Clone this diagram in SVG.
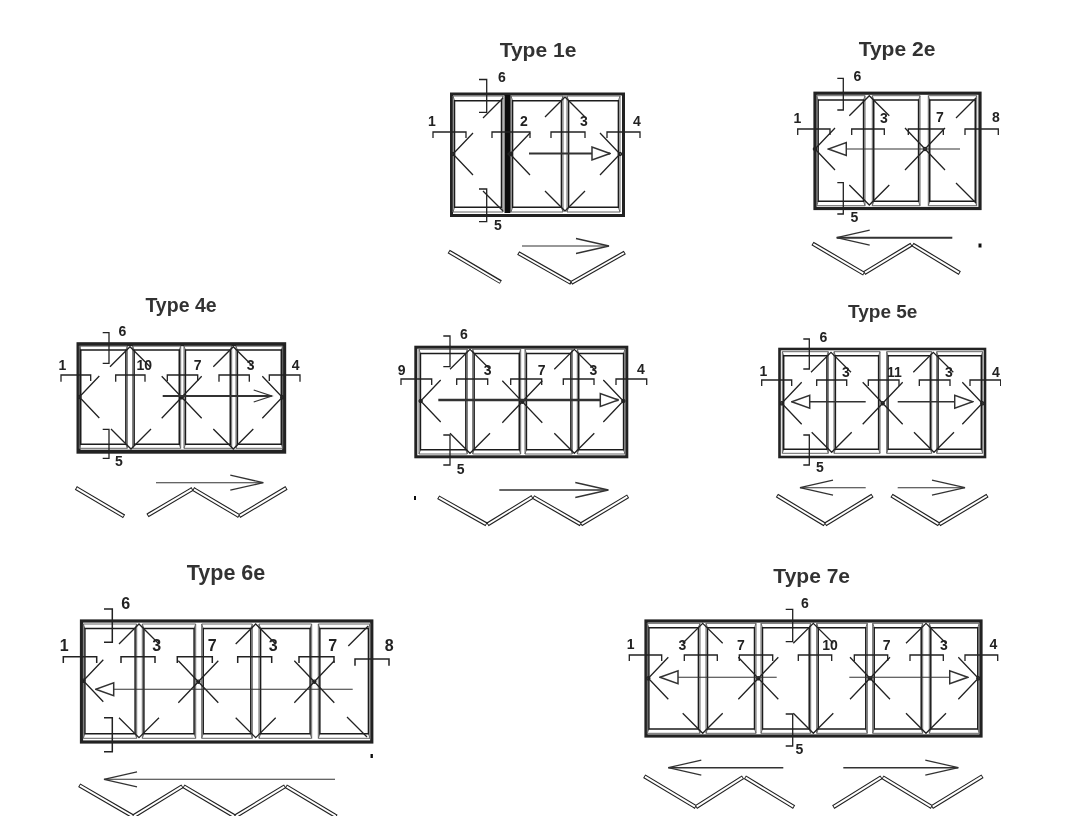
<svg xmlns="http://www.w3.org/2000/svg" xmlns:xlink="http://www.w3.org/1999/xlink" width="1068" height="840" viewBox="0 0 1068 840">
<style>
text{font-family:"Liberation Sans",Arial,sans-serif;font-weight:700;fill:#222;text-anchor:middle}
.t{font-size:21px;fill:#333}
.n{font-size:14px}
.N{font-size:16px}
.f{fill:#fff;stroke:#222}
.p{fill:none}
#pn{vector-effect:non-scaling-stroke;stroke:#666;stroke-width:1}
#pg{vector-effect:non-scaling-stroke;stroke:#1a1a1a;stroke-width:1.5}
.h{fill:none;stroke:#222;stroke-width:1.3}
.b{fill:none;stroke:#222;stroke-width:1.3}
.a{fill:none;stroke:#333;stroke-width:2}
.a1{fill:none;stroke:#333;stroke-width:1.1}
.lo{fill:none;stroke:#222;stroke-width:4.2;stroke-linecap:square}
.li{fill:none;stroke:#fff;stroke-width:2}
.m{fill:#111}
</style>
<defs>
<filter id="soft" x="0" y="0" width="100%" height="100%"><feGaussianBlur stdDeviation="0.35"/></filter>
<g id="pnl"><path id="pn" d="M0 0H50V100H0Z M0 0L1.5 4 M50 0L48.5 4 M50 100L48.5 96 M0 100L1.5 96"/><path id="pg" d="M1.5 4H48.5V96H1.5Z"/></g>
<path id="x" d="M-20 -21L20 21M-20 21L20 -21M-1.6 0a1.6 1.6 0 1 0 3.2 0a1.6 1.6 0 1 0 -3.2 0"/>
<path id="lc" d="M20 -21L0 0L20 21M-1.6 0a1.6 1.6 0 1 0 3.2 0a1.6 1.6 0 1 0 -3.2 0"/>
<path id="rc" d="M-20 -21L0 0L-20 21M-1.6 0a1.6 1.6 0 1 0 3.2 0a1.6 1.6 0 1 0 -3.2 0"/>
<path id="tv" d="M-20 20L0 0L20 20"/>
<path id="bv" d="M-20 -20L0 0L20 -20"/>
<path id="tr" d="M-20 20L0 0"/>
<path id="br" d="M-20 -20L0 0"/>
<marker id="tri" markerUnits="userSpaceOnUse" viewBox="-19 -8 20 16" refX="0" refY="0" markerWidth="20" markerHeight="16" orient="auto"><path d="M0 0L-18 -6.5V6.5Z" fill="#fff" stroke="#333" stroke-width="1.5"/></marker>
<marker id="opn" markerUnits="userSpaceOnUse" viewBox="-34 -9 36 18" refX="0" refY="0" markerWidth="36" markerHeight="18" orient="auto"><path d="M-33 -7.5L0 0L-33 7.5" fill="none" stroke="#333" stroke-width="1.3"/></marker>
<marker id="ops" markerUnits="userSpaceOnUse" viewBox="-20 -7 22 14" refX="0" refY="0" markerWidth="22" markerHeight="14" orient="auto"><path d="M-18 -6L0 0L-18 6" fill="none" stroke="#333" stroke-width="1.3"/></marker>
</defs>
<rect width="1068" height="840" fill="#fff"/>
<g filter="url(#soft)">

<g id="type1e">
<text class="t" x="538" y="57">Type 1e</text>
<rect class="f" x="451.5" y="94" width="172" height="121.5" stroke-width="3"/>
<g class="p"><use xlink:href="#pnl" transform="translate(453 96) scale(1 1.16)"/><use xlink:href="#pnl" transform="translate(511 96) scale(1.04 1.16)"/><use xlink:href="#pnl" transform="translate(567 96) scale(1.06 1.16)"/></g>
<rect class="m" x="504.5" y="95" width="6" height="118"/>
<g class="h"><use xlink:href="#lc" x="453" y="154"/><use xlink:href="#tr" x="503" y="98"/><use xlink:href="#br" x="503" y="211"/><use xlink:href="#lc" x="510" y="154"/><use xlink:href="#tv" x="565" y="97"/><use xlink:href="#bv" x="565" y="211"/><use xlink:href="#rc" x="620" y="154"/></g>
<path class="b" d="M433 138V132H466V138M492 138V132H530V138M551 138V132H585V138M607 138V132H640V138M479 79.5H486.7V112.3H479M479 189H486.7V221.7H479"/>
<path class="a" marker-end="url(#tri)" d="M529 153.5H610"/>
<path class="a1" marker-end="url(#opn)" d="M522 246H609"/>
<path class="lo" d="M450.5 252.5L499 281M520 254L569.5 282M573 282L623 253.5"/><path class="li" d="M449.5 252L500 282M519 253.5L570 282.5M572 282.5L624 253"/>
<g class="n"><text x="502" y="82">6</text><text x="432" y="126">1</text><text x="524" y="126">2</text><text x="584" y="126">3</text><text x="637" y="126">4</text><text x="498" y="230">5</text></g>
</g>

<g id="type2e">
<text class="t" x="897" y="56">Type 2e</text>
<rect class="f" x="815" y="93.2" width="165" height="115.3" stroke-width="3.2"/>
<g class="p"><use xlink:href="#pnl" transform="translate(816.7 95.7) scale(.966 1.1)"/><use xlink:href="#pnl" transform="translate(872.3 95.7) scale(.954 1.1)"/><use xlink:href="#pnl" transform="translate(928.3 95.7) scale(.968 1.1)"/></g>
<g class="h"><use xlink:href="#lc" x="815" y="149"/><use xlink:href="#tv" x="869.3" y="95.7"/><use xlink:href="#bv" x="869.3" y="205"/><use xlink:href="#x" x="925" y="149"/><use xlink:href="#tr" x="976" y="98"/><use xlink:href="#br" x="976" y="203"/></g>
<path class="b" d="M797.7 135V129H830V135M851.7 135V129H884.3V135M908.3 135V129H943.3V135M965 135V129H998.3V135M837.3 78.3H843.3V110H837.3M837.3 182.7H843.3V214H837.3"/>
<path class="a1" marker-end="url(#tri)" d="M960 149H828.3"/>
<path class="a" marker-end="url(#opn)" d="M952.3 237.7H836.7"/>
<path class="lo" d="M814.3 244.6L862.3 272.7M866 272L909.7 245.6M914.3 245.6L958 272"/><path class="li" d="M813.3 244L863.3 273.3M865 272.7L910.7 245M913.3 245L959 272.7"/>
<rect class="m" x="978.5" y="243.5" width="3" height="4"/>
<g class="n"><text x="857.3" y="80.5">6</text><text x="797.3" y="122.5">1</text><text x="884" y="123">3</text><text x="940" y="121.5">7</text><text x="996" y="121.5">8</text><text x="854.3" y="221.5">5</text></g>
</g>

<g id="type4e">
<text class="t" x="181" y="311.5" style="font-size:19.5px">Type 4e</text>
<rect class="f" x="78.5" y="344.2" width="205.7" height="107.5" stroke-width="4"/>
<g class="p"><use xlink:href="#pnl" transform="translate(79.3 346) scale(.96 1.023)"/><use xlink:href="#pnl" transform="translate(132.7 346) scale(.96 1.023)"/><use xlink:href="#pnl" transform="translate(184 346) scale(.954 1.023)"/><use xlink:href="#pnl" transform="translate(236 346) scale(.934 1.023)"/></g>
<g class="h"><use xlink:href="#lc" x="79.3" y="397"/><use xlink:href="#tv" x="130" y="346.7"/><use xlink:href="#bv" x="131" y="449"/><use xlink:href="#x" x="181.7" y="397.3"/><use xlink:href="#tv" x="233.3" y="346.7"/><use xlink:href="#bv" x="233.3" y="449"/><use xlink:href="#rc" x="282.3" y="397.3"/></g>
<path class="b" d="M61 381.7V375H90.7V381M115.7 381.7V375H145V381.7M167.3 381V375H197.7V381M219 381.7V375H249.3V381.7M269.3 381V375H300V381.7M102.7 332.7H109V363.3H102.7M102.7 429.3H109V458.3H102.7"/>
<path class="a" marker-end="url(#ops)" d="M162.7 396H271.7"/>
<path class="a1" marker-end="url(#opn)" d="M156 482.7H263.3"/>
<path class="lo" d="M77.7 489L122.3 515.3M149.3 514.4L190.7 490M195 490L237.3 515M241 515L284.7 489"/><path class="li" d="M76.7 488.3L123.3 516M148.3 515L191.7 489.3M194 489.3L238.3 515.7M240 515.7L285.7 488.3"/>
<g class="n"><text x="122.3" y="335.5">6</text><text x="62.3" y="370">1</text><text x="144.3" y="370">10</text><text x="197.7" y="370">7</text><text x="250.7" y="370">3</text><text x="295.7" y="370">4</text><text x="119" y="466">5</text></g>
</g>

<g id="typeMid">
<rect class="f" x="415.8" y="347.2" width="211" height="109.6" stroke-width="3"/>
<g class="p"><use xlink:href="#pnl" transform="translate(419 349.3) scale(.966 1.047)"/><use xlink:href="#pnl" transform="translate(472.7 349.3) scale(.96 1.047)"/><use xlink:href="#pnl" transform="translate(525 349.3) scale(.946 1.047)"/><use xlink:href="#pnl" transform="translate(577.3 349.3) scale(.954 1.047)"/></g>
<g class="h"><use xlink:href="#lc" x="420.7" y="401"/><use xlink:href="#tv" x="470" y="349.3"/><use xlink:href="#bv" x="470" y="453.3"/><use xlink:href="#x" x="522.3" y="401.7"/><use xlink:href="#tv" x="574.3" y="349.3"/><use xlink:href="#bv" x="574.3" y="453.3"/><use xlink:href="#rc" x="623.3" y="401"/></g>
<path class="b" d="M401 385V379H431.7V385M456.7 385V379H487.7V385M510.7 385V379H541.7V385M563.3 385V379H594V385M616 385V379H646.7V385M443.3 336H450V366.7H443.3M443.3 435H450V465H443.3"/>
<path class="a" marker-end="url(#tri)" style="stroke-width:2.4" d="M438.3 400H618.3"/>
<path class="a" marker-end="url(#opn)" style="stroke-width:1.6" d="M499.3 490H608.3"/>
<path class="lo" d="M440 498.3L484.7 523.4M489.3 523.4L530.7 498M535 498L579 523.4M582.7 523.4L626.3 497.3"/><path class="li" d="M439 497.7L485.7 524M488.3 524L531.7 497.3M534 497.3L580 524M581.7 524L627.3 496.7"/>
<rect class="m" x="414" y="496" width="2" height="4"/>
<g class="n"><text x="464" y="339">6</text><text x="401.7" y="375">9</text><text x="487.7" y="375">3</text><text x="541.7" y="375">7</text><text x="593.3" y="375">3</text><text x="641" y="374">4</text><text x="460.7" y="473.5">5</text></g>
</g>

<g id="type5e">
<text class="t" x="882.7" y="317.5" style="font-size:19px">Type 5e</text>
<rect class="f" x="779.5" y="349" width="205.5" height="108" stroke-width="2.6"/>
<g class="p"><use xlink:href="#pnl" transform="translate(782.3 351.7) scale(.92 1.016)"/><use xlink:href="#pnl" transform="translate(834 351.7) scale(.92 1.016)"/><use xlink:href="#pnl" transform="translate(886.7 351.7) scale(.9 1.016)"/><use xlink:href="#pnl" transform="translate(936.7 351.7) scale(.92 1.016)"/></g>
<g class="h"><use xlink:href="#lc" x="781.7" y="403.3"/><use xlink:href="#tv" x="831" y="352.3"/><use xlink:href="#bv" x="831.7" y="452.3"/><use xlink:href="#x" x="882.7" y="403.3"/><use xlink:href="#tv" x="933.3" y="352.3"/><use xlink:href="#bv" x="934" y="452.3"/><use xlink:href="#rc" x="982.3" y="403.3"/></g>
<path class="b" d="M761.7 386V380H791.7V386M816.7 386V380H846.7V386M868.3 386V380H899V386M919.3 386V380H950V386M970 386V380H1000.7V386M803.3 339H809.3V369H803.3M803.3 435H809.3V465H803.3"/>
<path class="a1" marker-end="url(#tri)" style="stroke-width:1.4" d="M865.7 401.7H791.7"/>
<path class="a1" marker-end="url(#tri)" style="stroke-width:1.4" d="M897.7 401.7H972.7"/>
<path class="a1" marker-end="url(#opn)" d="M865.7 487.7H800"/>
<path class="a1" marker-end="url(#opn)" d="M897.7 487.7H965"/>
<path class="lo" d="M778.7 496.6L823 523.4M827 523.4L870.7 496.6M893.3 496.6L937.3 523.4M941 523.4L985.7 496.6"/><path class="li" d="M777.7 496L824 524M826 524L871.7 496M892.3 496L938.3 524M940 524L986.7 496"/>
<g class="n"><text x="823.3" y="341.5">6</text><text x="763.3" y="376">1</text><text x="846" y="376.5">3</text><text x="894.3" y="376.5">11</text><text x="949" y="376.5">3</text><text x="996" y="376.5">4</text><text x="820" y="471.5">5</text></g>
</g>

<g id="type6e">
<text class="t" x="226" y="580" style="font-size:21.5px">Type 6e</text>
<rect class="f" x="81.5" y="621" width="290.3" height="121" stroke-width="3.2"/>
<g class="p"><use xlink:href="#pnl" transform="translate(83.3 624) scale(1.068 1.143)"/><use xlink:href="#pnl" transform="translate(142.3 624) scale(1.068 1.143)"/><use xlink:href="#pnl" transform="translate(201.7 624) scale(1.012 1.143)"/><use xlink:href="#pnl" transform="translate(259 624) scale(1.054 1.143)"/><use xlink:href="#pnl" transform="translate(318.3 624) scale(1.034 1.143)"/></g>
<g class="h"><use xlink:href="#lc" x="83.3" y="680.7"/><use xlink:href="#tv" x="139" y="624"/><use xlink:href="#bv" x="139" y="737.7"/><use xlink:href="#x" x="198.3" y="681.7"/><use xlink:href="#tv" x="255.7" y="624"/><use xlink:href="#bv" x="255.7" y="737.7"/><use xlink:href="#x" x="314.3" y="681.7"/><use xlink:href="#tr" x="368.3" y="626"/><use xlink:href="#br" x="367" y="737"/></g>
<path class="b" style="stroke-width:1.5" d="M63.3 663V656.7H96.7V663M121 663V656.7H155V663M177.3 663V656.7H212.3V663M237.7 663V656.7H271.7V663M299 663V656.7H334V663M355 665.7V659H389V665.7M104 609H112.3V642.3H104M104 717.7H112.3V751.7H104"/>
<path class="a1" marker-end="url(#tri)" d="M352.7 689.3H95.7"/>
<path class="a1" marker-end="url(#opn)" d="M335 779.3H104"/>
<path class="lo" d="M81 786.3L131.3 815.4M135 815.4L180.7 787.3M185.3 787.3L233 815.4M237 815.4L283.3 787.3M287.7 787.3L334.7 815.4"/><path class="li" d="M80 785.7L132.3 816M134 816L181.7 786.7M184.3 786.7L234 816M236 816L284.3 786.7M286.7 786.7L335.7 816"/>
<rect class="m" x="370.5" y="754" width="2.4" height="4"/>
<g class="N"><text x="125.7" y="609">6</text><text x="64.3" y="650.5">1</text><text x="156.7" y="650.5">3</text><text x="212.3" y="650.5">7</text><text x="273.3" y="650.5">3</text><text x="332.7" y="650.5">7</text><text x="389.3" y="650.5">8</text></g>
</g>

<g id="type7e">
<text class="t" x="811.7" y="582.5" style="font-size:21px">Type 7e</text>
<rect class="f" x="646" y="621" width="335" height="115" stroke-width="3.2"/>
<g class="p"><use xlink:href="#pnl" transform="translate(647.3 623.3) scale(1.054 1.1)"/><use xlink:href="#pnl" transform="translate(706 623.3) scale(1 1.1)"/><use xlink:href="#pnl" transform="translate(761 623.3) scale(.994 1.1)"/><use xlink:href="#pnl" transform="translate(816.7 623.3) scale(1.012 1.1)"/><use xlink:href="#pnl" transform="translate(872.7 623.3) scale(1 1.1)"/><use xlink:href="#pnl" transform="translate(929.3 623.3) scale(1 1.1)"/></g>
<g class="h"><use xlink:href="#lc" x="648.3" y="678.3"/><use xlink:href="#tv" x="702.7" y="623.3"/><use xlink:href="#bv" x="702.7" y="733.3"/><use xlink:href="#x" x="758.3" y="678.3"/><use xlink:href="#tv" x="813.3" y="623.3"/><use xlink:href="#bv" x="813.3" y="733.3"/><use xlink:href="#x" x="870" y="678.3"/><use xlink:href="#tv" x="926" y="623.3"/><use xlink:href="#bv" x="926" y="733.3"/><use xlink:href="#rc" x="978.3" y="678.3"/></g>
<path class="b" d="M629.3 661V655H661.7V661M684.3 661V655H717.3V661M739.3 661V655H772.7V661M798.3 661V655H831.7V661M854.3 661V655H887.7V661M910 661V655H943.3V661M965 661V655H997.7V661M785.7 609.3H792.7V641.7H785.7M785.7 714H792.7V746H785.7"/>
<path class="a1" marker-end="url(#tri)" d="M776.7 677.3H660"/>
<path class="a1" marker-end="url(#tri)" d="M849.3 677.3H967.7"/>
<path class="a1" style="stroke-width:1.5" marker-end="url(#opn)" d="M783.3 767.7H668.3"/>
<path class="a1" style="stroke-width:1.5" marker-end="url(#opn)" d="M843.3 767.7H958.3"/>
<path class="lo" d="M646 777.3L694 806M697.7 806L741.3 778.3M746.7 778.3L792.3 806M835 806L879.7 778.3M884.3 778.3L930 806M933.7 806L980.7 777.3"/><path class="li" d="M645 776.7L695 806.7M696.7 806.7L742.3 777.7M745.7 777.7L793.3 806.7M834 806.7L880.7 777.7M883.3 777.7L931 806.7M932.7 806.7L981.7 776.7"/>
<g class="n"><text x="805" y="608">6</text><text x="630.7" y="649">1</text><text x="682.3" y="650">3</text><text x="741" y="650">7</text><text x="830" y="650">10</text><text x="886.7" y="650">7</text><text x="944" y="650">3</text><text x="993.3" y="649">4</text><text x="799.3" y="754">5</text></g>
</g>

</g>
</svg>
